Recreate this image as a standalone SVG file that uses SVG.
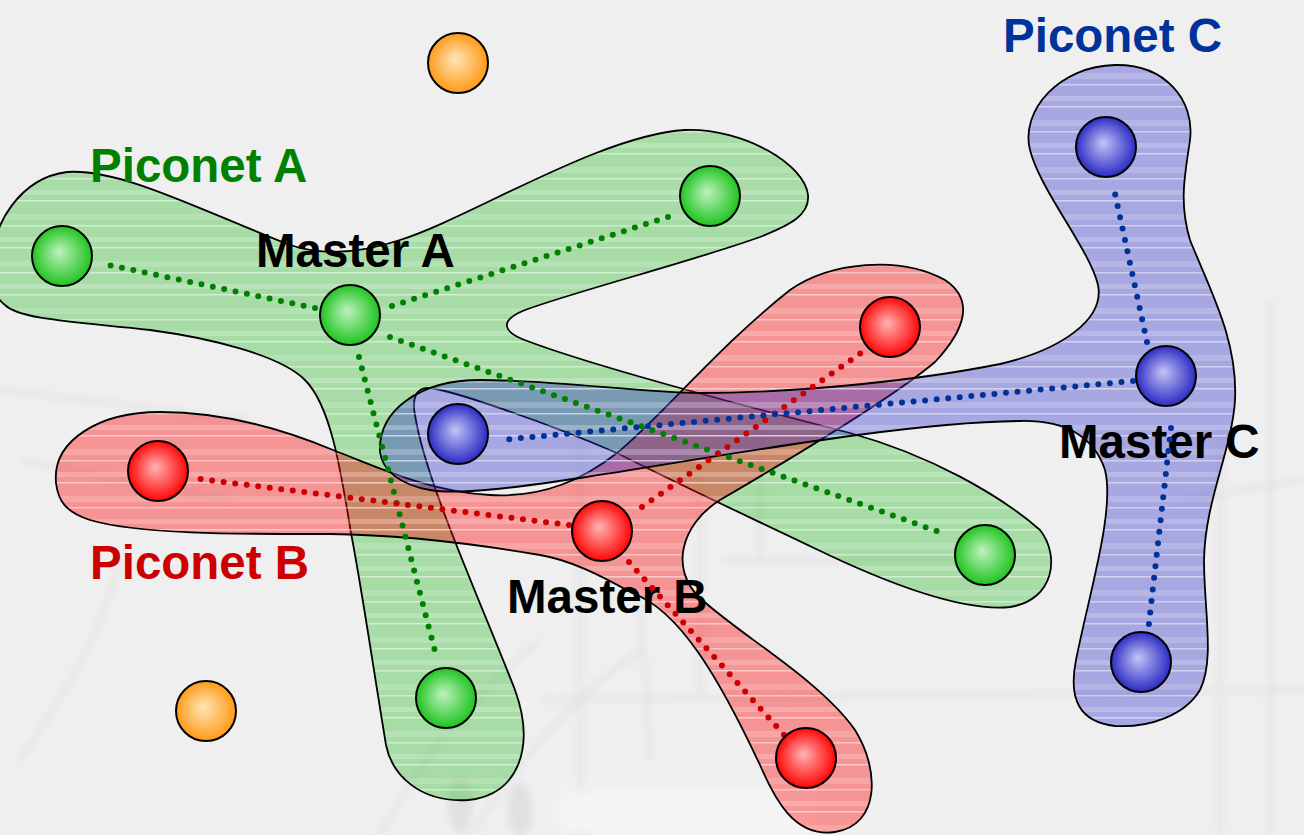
<svg xmlns="http://www.w3.org/2000/svg" width="1304" height="835" viewBox="0 0 1304 835">
<style>
.blob{stroke:#000;stroke-width:1.8;stroke-linejoin:round}
.stripe{fill:url(#stripes);stroke:none}
.node{stroke:#000;stroke-width:2}
.dots{fill:none;stroke-width:6;stroke-linecap:round;stroke-dasharray:0 11.6}
.lbl{font-family:"Liberation Sans",Arial,sans-serif;font-weight:bold;font-size:47.5px}
.bg{fill:none;stroke:#dadada;stroke-width:3.5}
</style>
<defs>
<filter id="blur" x="-10%" y="-10%" width="120%" height="120%"><feGaussianBlur stdDeviation="3.5"/></filter>
<filter id="soft" x="-10%" y="-50%" width="120%" height="200%"><feGaussianBlur stdDeviation="6"/></filter>
<pattern id="stripes" patternUnits="userSpaceOnUse" width="1304" height="47">
<rect x="0" y="2" width="1304" height="5" fill="#fff" fill-opacity="0.2"/>
<rect x="0" y="12" width="1304" height="1.5" fill="#fff" fill-opacity="0.5"/>
<rect x="0" y="26" width="1304" height="6" fill="#fff" fill-opacity="0.16"/>
<rect x="0" y="37" width="1304" height="1.5" fill="#fff" fill-opacity="0.45"/>
</pattern>
<radialGradient id="gGreen" cx="50%" cy="50%" r="50%" fx="45%" fy="43%"><stop offset="0" stop-color="#bff2bf"/><stop offset="1" stop-color="#1fc41f"/></radialGradient>
<radialGradient id="gRed" cx="50%" cy="50%" r="50%" fx="45%" fy="43%"><stop offset="0" stop-color="#ffb4b4"/><stop offset="1" stop-color="#ff0505"/></radialGradient>
<radialGradient id="gBlue" cx="50%" cy="50%" r="50%" fx="45%" fy="43%"><stop offset="0" stop-color="#c4c4f6"/><stop offset="1" stop-color="#2b2bc4"/></radialGradient>
<radialGradient id="gOrange" cx="50%" cy="50%" r="50%" fx="45%" fy="43%"><stop offset="0" stop-color="#ffe6b8"/><stop offset="1" stop-color="#ff9a18"/></radialGradient>
<path id="pA" d="M -8,262 C -8,225 20,178 67,172 C 120,168 200,210 290,245 C 320,255 355,255 400,240 C 470,218 600,135 685,130 C 745,128 805,165 808,195 C 810,215 790,225 760,237 C 690,262 580,290 525,310 C 500,320 500,332 530,342 C 600,368 760,410 850,433 C 930,455 1000,495 1040,530 C 1060,555 1055,600 1010,607 C 960,612 880,580 814,548 C 760,522 680,485 617,453 C 540,420 450,390 430,388 C 415,387 412,400 415,415 C 425,480 480,600 515,690 C 535,745 520,795 468,800 C 420,803 392,775 386,745 C 372,660 362,590 351,533 C 340,465 330,405 305,380 C 280,355 210,338 150,330 C 80,322 20,320 5,305 C -8,295 -8,280 -8,262 Z"/>
<path id="pB" d="M 56,483 C 52,440 100,412 160,412 C 230,412 290,432 333,450 C 380,468 430,492 490,495 C 545,498 585,478 617,453 C 660,418 720,345 790,290 C 830,262 900,255 945,280 C 975,300 965,330 935,362 C 890,400 780,465 720,500 C 680,525 670,570 700,598 C 740,635 820,680 855,730 C 880,770 880,825 835,832 C 795,838 775,800 760,765 C 720,680 680,610 632,593 C 600,575 570,560 540,555 C 470,543 400,535 330,534 C 250,534 140,535 90,520 C 65,512 58,500 56,483 Z"/>
<path id="pC" d="M 380,452 C 378,410 420,380 480,380 C 560,380 640,393 700,393 C 800,393 920,380 1000,364 C 1060,350 1105,320 1098,285 C 1090,250 1040,190 1030,150 C 1020,110 1060,66 1115,65 C 1165,64 1195,100 1190,140 C 1186,170 1178,200 1190,240 C 1210,290 1238,340 1235,400 C 1232,450 1205,500 1204,560 C 1204,610 1215,660 1200,690 C 1185,715 1150,728 1115,726 C 1080,722 1068,700 1076,660 C 1090,590 1115,510 1105,470 C 1095,440 1070,420 1020,421 C 900,422 700,460 580,478 C 520,487 460,495 430,490 C 400,485 382,470 380,452 Z"/>
</defs>
<rect width="1304" height="835" fill="#efefef"/>
<g id="background" filter="url(#blur)" opacity="0.7">
<path class="bg" d="M 0,390 L 250,420 M 20,460 L 230,500 M 120,560 C 100,640 60,700 20,760 M 580,420 L 580,800 M 700,470 L 700,700 M 760,430 L 760,560 M 720,560 L 1010,560 M 540,700 L 1304,690 M 1180,500 L 1304,480 M 1270,300 L 1270,835 M 1220,430 L 1220,835 M 640,600 L 650,760"/>
<path class="bg" d="M 380,835 C 420,760 470,700 540,640 M 470,835 C 520,760 570,700 640,650"/>
<ellipse cx="460" cy="805" rx="12" ry="28" fill="#dadada"/>
<ellipse cx="520" cy="810" rx="12" ry="28" fill="#dadada"/>
<ellipse cx="580" cy="815" rx="12" ry="26" fill="#dedede"/>
</g>
<rect x="560" y="790" width="260" height="45" fill="#f5f5f5" filter="url(#soft)"/>
<g id="piconet-a">
<use href="#pA" fill="#00b000" fill-opacity="0.3"/>
<use href="#pA" class="stripe"/>
<use href="#pA" class="blob" fill="none"/>
</g>
<g id="piconet-b">
<use href="#pB" fill="#ff0000" fill-opacity="0.38"/>
<use href="#pB" class="stripe"/>
<use href="#pB" class="blob" fill="none"/>
</g>
<g id="piconet-c">
<use href="#pC" fill="#2828c8" fill-opacity="0.36"/>
<use href="#pC" class="stripe"/>
<use href="#pC" class="blob" fill="none"/>
</g>
<g id="labels" class="lbl">
<text x="90" y="182" fill="#008000">Piconet A</text>
<text x="90" y="579" fill="#cc0000">Piconet B</text>
<text x="1003" y="52" fill="#003399">Piconet C</text>
<text x="256" y="267" fill="#000">Master A</text>
<text x="507" y="613" fill="#000">Master B</text>
<text x="1059" y="458" fill="#000">Master C</text>
</g>
<g id="connectors">
<g stroke="#008000" class="dots">
<path d="M 315,308 L 104,264"/>
<path d="M 392,306 L 677,214"/>
<path d="M 390,337 L 945,534"/>
<path d="M 359,357 L 437,659"/>
</g>
<g stroke="#cc0000" class="dots">
<path d="M 569,525 L 200,479"/>
<path d="M 642,507 L 868,348"/>
<path d="M 629,562 L 786,737"/>
</g>
<g stroke="#003399" class="dots">
<path d="M 1133,381 L 500,440"/>
<path d="M 1147,342 L 1114,189"/>
<path d="M 1171,428 L 1148,632"/>
</g>
</g>
<g id="node-a1"><circle class="node" cx="62" cy="256" r="30" fill="url(#gGreen)"/></g>
<g id="master-a"><circle class="node" cx="350" cy="315" r="30" fill="url(#gGreen)"/></g>
<g id="node-a2"><circle class="node" cx="710" cy="196" r="30" fill="url(#gGreen)"/></g>
<g id="node-a3"><circle class="node" cx="985" cy="555" r="30" fill="url(#gGreen)"/></g>
<g id="node-a4"><circle class="node" cx="446" cy="698" r="30" fill="url(#gGreen)"/></g>
<g id="node-b1"><circle class="node" cx="158" cy="471" r="30" fill="url(#gRed)"/></g>
<g id="master-b"><circle class="node" cx="602" cy="531" r="30" fill="url(#gRed)"/></g>
<g id="node-b2"><circle class="node" cx="890" cy="327" r="30" fill="url(#gRed)"/></g>
<g id="node-b3"><circle class="node" cx="806" cy="758" r="30" fill="url(#gRed)"/></g>
<g id="node-c1"><circle class="node" cx="1106" cy="147" r="30" fill="url(#gBlue)"/></g>
<g id="master-c"><circle class="node" cx="1166" cy="376" r="30" fill="url(#gBlue)"/></g>
<g id="node-c2"><circle class="node" cx="458" cy="434" r="30" fill="url(#gBlue)"/></g>
<g id="node-c3"><circle class="node" cx="1141" cy="662" r="30" fill="url(#gBlue)"/></g>
<g id="node-o1"><circle class="node" cx="458" cy="63" r="30" fill="url(#gOrange)"/></g>
<g id="node-o2"><circle class="node" cx="206" cy="711" r="30" fill="url(#gOrange)"/></g>
</svg>
